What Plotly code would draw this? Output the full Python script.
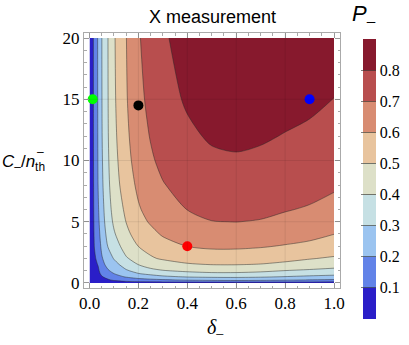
import numpy as np
import plotly.graph_objects as go

# eje x (delta_-) y eje y (C_-/n_th^-)
delta = [0, 0.01, 0.02, 0.035, 0.05, 0.075, 0.1, 0.15, 0.2, 0.25, 0.3, 0.4, 0.5, 0.6, 0.7, 0.8, 0.9, 1.0]
c_ratio = [0, 0.1, 0.25, 0.5, 0.75, 1, 1.5, 2, 3, 4, 5, 6, 8, 10, 12, 15, 20]

# P_-, una lista por cada valor de delta (de abajo hacia arriba en C)
p_d000 = [0] * 17
p_d001 = [0, 0.005, 0.01, 0.018, 0.024, 0.029, 0.036, 0.042, 0.05, 0.054, 0.057, 0.059, 0.061, 0.063, 0.064, 0.064, 0.065]
p_d002 = [0, 0.01, 0.022, 0.038, 0.05, 0.06, 0.074, 0.088, 0.102, 0.109, 0.113, 0.116, 0.119, 0.121, 0.123, 0.124, 0.125]
p_d0035 = [0, 0.012, 0.03, 0.052, 0.07, 0.083, 0.104, 0.12, 0.145, 0.165, 0.178, 0.188, 0.2, 0.204, 0.206, 0.208, 0.21]
p_d005 = [0, 0.02, 0.048, 0.09, 0.12, 0.14, 0.17, 0.19, 0.22, 0.24, 0.255, 0.265, 0.28, 0.288, 0.293, 0.296, 0.298]
p_d0075 = [0, 0.04, 0.085, 0.14, 0.168, 0.19, 0.228, 0.255, 0.302, 0.33, 0.35, 0.362, 0.378, 0.387, 0.393, 0.396, 0.398]
p_d010 = [0, 0.06, 0.12, 0.175, 0.198, 0.225, 0.268, 0.305, 0.35, 0.39, 0.415, 0.432, 0.455, 0.468, 0.477, 0.485, 0.49]
p_d015 = [0, 0.085, 0.16, 0.205, 0.26, 0.29, 0.34, 0.39, 0.445, 0.478, 0.502, 0.52, 0.55, 0.567, 0.58, 0.592, 0.598]
p_d020 = [0, 0.098, 0.17, 0.235, 0.295, 0.33, 0.401, 0.44, 0.501, 0.54, 0.57, 0.59, 0.62, 0.645, 0.66, 0.675, 0.69]
p_d025 = [0, 0.11, 0.18, 0.26, 0.32, 0.375, 0.44, 0.49, 0.53, 0.575, 0.61, 0.635, 0.665, 0.688, 0.705, 0.725, 0.75]
p_d030 = [0, 0.12, 0.19, 0.28, 0.345, 0.395, 0.46, 0.51, 0.565, 0.61, 0.645, 0.668, 0.695, 0.722, 0.745, 0.768, 0.79]
p_d040 = [0, 0.13, 0.21, 0.305, 0.37, 0.415, 0.49, 0.535, 0.601, 0.645, 0.68, 0.701, 0.735, 0.762, 0.785, 0.81, 0.83]
p_d050 = [0, 0.14, 0.22, 0.315, 0.38, 0.43, 0.501, 0.55, 0.615, 0.66, 0.698, 0.722, 0.758, 0.785, 0.81, 0.832, 0.85]
p_d060 = [0, 0.145, 0.225, 0.318, 0.38, 0.43, 0.502, 0.55, 0.615, 0.662, 0.701, 0.726, 0.763, 0.792, 0.815, 0.84, 0.86]
p_d070 = [0, 0.14, 0.22, 0.31, 0.37, 0.418, 0.495, 0.545, 0.607, 0.655, 0.695, 0.72, 0.757, 0.787, 0.808, 0.835, 0.86]
p_d080 = [0, 0.13, 0.21, 0.295, 0.355, 0.398, 0.475, 0.53, 0.594, 0.642, 0.68, 0.705, 0.743, 0.772, 0.797, 0.825, 0.855]
p_d090 = [0, 0.12, 0.198, 0.28, 0.34, 0.385, 0.46, 0.505, 0.578, 0.628, 0.665, 0.692, 0.732, 0.762, 0.787, 0.815, 0.85]
p_d100 = [0, 0.11, 0.19, 0.27, 0.325, 0.37, 0.442, 0.488, 0.56, 0.601, 0.638, 0.672, 0.712, 0.74, 0.765, 0.799, 0.84]

# puntos marcados
pt_x = [0.013, 0.2, 0.9, 0.4]
pt_y = [15, 14.5, 15, 3]
pt_colors = ['#00ff00', '#000000', '#0000ff', '#ff0000']

# colores de cada banda (0-0.1 ... 0.8-0.9)
band_colors = ['#2a1ec8', '#6283e8', '#9bc4f0', '#c6e0e4', '#dde0c8',
               '#e8c49e', '#d88c72', '#b84e4e', '#87192d']
niveles = [0.1, 0.2, 0.3, 0.4, 0.5, 0.6, 0.7, 0.8]

z = np.array([p_d000, p_d001, p_d002, p_d0035, p_d005, p_d0075, p_d010, p_d015, p_d020,
              p_d025, p_d030, p_d040, p_d050, p_d060, p_d070, p_d080, p_d090, p_d100]).T

escala = [[i / 8, c] for i, c in enumerate(band_colors)]
# escala escalonada para la barra de color (0 a 0.9)
escala_barra = []
for i, c in enumerate(band_colors):
    escala_barra.append([i / 9, c])
    escala_barra.append([(i + 1) / 9, c])

serif = 'Liberation Serif'
sans = 'Liberation Sans'
linea = 'rgba(40,40,40,0.6)'

fig = go.Figure()
fig.add_trace(go.Contour(
    x=delta, y=c_ratio, z=z,
    colorscale=escala, showscale=False,
    contours=dict(start=0.1, end=0.8, size=0.1, coloring='fill'),
    line=dict(width=0.8, color=linea, smoothing=0.8),
    hoverinfo='skip'))

fig.add_trace(go.Scatter(x=pt_x, y=pt_y, mode='markers',
                         marker=dict(size=10, color=pt_colors), hoverinfo='skip'))

# barra de color P_-
fig.add_trace(go.Scatter(
    x=[None], y=[None], mode='markers', hoverinfo='skip',
    marker=dict(color=[0.45], cmin=0, cmax=0.9, colorscale=escala_barra, showscale=True,
                colorbar=dict(x=1.09, xanchor='left', xpad=0, ypad=0,
                              y=0.9765, yanchor='top', len=280, lenmode='pixels',
                              thickness=13, outlinewidth=0,
                              tickvals=niveles, ticks='inside', ticklen=15,
                              tickcolor=linea, tickwidth=1,
                              tickfont=dict(family=serif, size=16, color='black')))))

# lineas de grilla tenues
for gx in [0.2, 0.4, 0.6, 0.8]:
    fig.add_vline(x=gx, line=dict(color='rgba(0,0,0,0.08)', width=1), layer='above')
for gy in [5, 10, 15]:
    fig.add_hline(y=gy, line=dict(color='rgba(0,0,0,0.08)', width=1), layer='above')

fig.update_xaxes(range=[-0.0225, 1.0245], tickvals=[0, 0.2, 0.4, 0.6, 0.8, 1.0],
                 ticktext=['0.0', '0.2', '0.4', '0.6', '0.8', '1.0'],
                 ticks='inside', ticklen=5, tickcolor='#999', showline=True, linecolor='#aaa',
                 mirror='allticks', showgrid=False, zeroline=False,
                 minor=dict(ticks='inside', ticklen=2.5, dtick=0.05, tickcolor='#aaa', showgrid=False),
                 tickfont=dict(family=serif, size=17, color='black'))
fig.update_yaxes(range=[-0.41, 20.41], tickvals=[0, 5, 10, 15, 20],
                 ticks='inside', ticklen=5, tickcolor='#999', showline=True, linecolor='#aaa',
                 mirror='allticks', showgrid=False, zeroline=False,
                 minor=dict(ticks='inside', ticklen=2.5, dtick=1, tickcolor='#aaa', showgrid=False),
                 tickfont=dict(family=serif, size=17, color='black'))

fig.update_layout(
    width=409, height=345, margin=dict(l=84, r=69, t=33, b=57, autoexpand=False),
    plot_bgcolor='white', paper_bgcolor='white', showlegend=False, hovermode=False,
    annotations=[
        dict(text='X measurement', x=0.5, y=1.0627, xref='paper', yref='paper',
             showarrow=False, yanchor='middle', font=dict(family=sans, size=18, color='black')),
        dict(text='<i>P</i><sub>–</sub>', x=1.148, y=1.0706, xref='paper', yref='paper',
             showarrow=False, yanchor='middle', font=dict(family=sans, size=22, color='black')),
        dict(text='<i>C</i><sub>–</sub>/<i>n</i><sub>th</sub>', x=-0.328, y=0.49,
             xref='paper', yref='paper', showarrow=False, xanchor='left', yanchor='middle',
             font=dict(family=sans, size=17, color='black')),
        dict(text='–', x=-0.171, y=0.535, xref='paper', yref='paper',
             showarrow=False, xanchor='center', yanchor='middle',
             font=dict(family=sans, size=12, color='black')),
        dict(text='<i>δ</i><sub>–</sub>', x=0.5156, y=-0.157, xref='paper', yref='paper',
             showarrow=False, yanchor='middle', font=dict(family=serif, size=20, color='black')),
    ])

# quitar el margen por defecto del body para que la figura quede en (0,0)
fig.write_html("out.html", config={'displayModeBar': False},
               post_script="document.body.style.margin='0px';")
